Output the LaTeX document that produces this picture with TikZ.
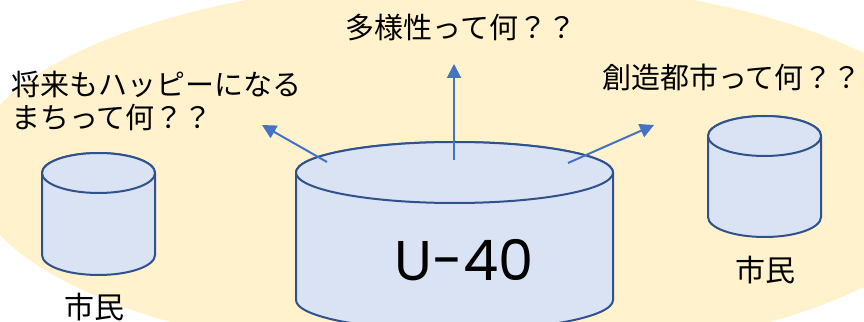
\documentclass[tikz,border=0pt]{standalone}
\usepackage{fontspec}
\setmainfont{Noto Sans CJK JP}
\newfontfamily\latinfont{Poppins}
\usetikzlibrary{arrows.meta}
\definecolor{bgyellow}{HTML}{FFF2CC}
\definecolor{cylfill}{HTML}{DAE3F3}
\definecolor{cylline}{HTML}{2F528F}
\definecolor{arrblue}{HTML}{4472C4}
\tikzset{
  cylbody/.style={fill=cylfill, draw=cylline, line width=2pt, line join=round},
  arr/.style={draw=arrblue, line width=2pt, -{Triangle[length=14pt,width=14pt]}},
  qtext/.style={inner sep=0pt, font=\fontsize{29}{33}\selectfont, text=black},
  lbl/.style={inner sep=0pt, font=\fontsize{30}{34}\selectfont, text=black},
}
\begin{document}
\begin{tikzpicture}[x=1pt,y=1pt]
\useasboundingbox (0,0) rectangle (864,321);
\begin{scope}
\clip (0,0) rectangle (864,321);
% background
\fill[bgyellow] (470,151) ellipse [x radius=500, y radius=190];
% left cylinder
\path[cylbody] (42,148) -- (42,66) arc[start angle=180, end angle=360, x radius=56.5, y radius=20] -- (155,148) arc[start angle=0, end angle=180, x radius=56.5, y radius=20] -- cycle;
\draw[cylbody] (98.5,148) ellipse [x radius=56.5, y radius=20];
% right cylinder
\path[cylbody] (708,185) -- (708,104) arc[start angle=180, end angle=360, x radius=56.5, y radius=20] -- (821,185) arc[start angle=0, end angle=180, x radius=56.5, y radius=20] -- cycle;
\draw[cylbody] (764.5,185) ellipse [x radius=56.5, y radius=20];
% center cylinder
\path[cylbody] (296,148.5) -- (296,21) arc[start angle=180, end angle=360, x radius=158.5, y radius=30.5] -- (613,148.5) arc[start angle=0, end angle=180, x radius=158.5, y radius=30.5] -- cycle;
\draw[cylbody] (454.5,148.5) ellipse [x radius=158.5, y radius=30.5];
\end{scope}
% labels
\node[inner sep=0pt, font=\latinfont\fontsize{56}{60}\selectfont] (u40) at (464,61) {U-40};
\node[lbl] (citizenL) at (94,14) {市民};
\node[lbl] (citizenR) at (765,51) {市民};
\node[qtext] (qtop) at (461,294) {多様性って何？？};
\node[qtext] (qright) at (732,244) {創造都市って何？？};
\node[qtext, align=left, anchor=west] (qleft) at (11,220.5) {将来もハッピーになる\\まちって何？？};
% arrows
\coordinate (ls) at (327,159);
\coordinate (lt) at (262,196);
\coordinate (ms) at (454,161);
\coordinate (mt) at (454,257);
\coordinate (rs) at (568,158);
\coordinate (rt) at (654,196);
\draw[arr] (ls) -- (lt);
\draw[arr] (ms) -- (mt);
\draw[arr] (rs) -- (rt);
\end{tikzpicture}
\end{document}
